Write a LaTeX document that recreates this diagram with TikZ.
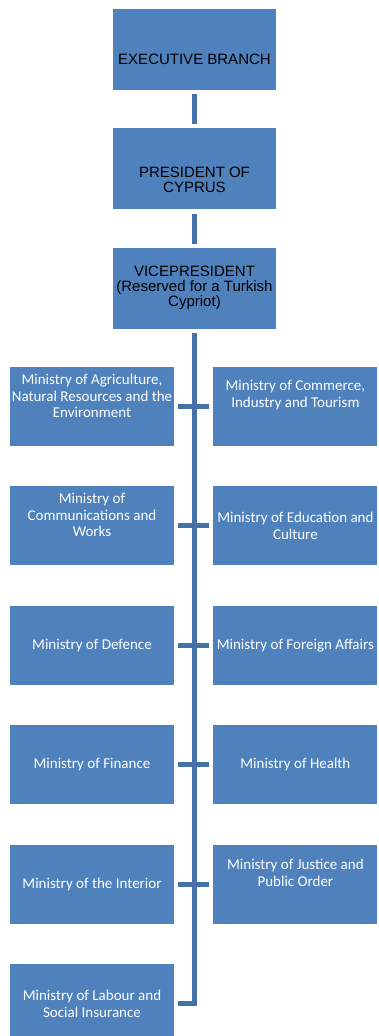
\documentclass[tikz,border=0pt]{standalone}
\usepackage{fontspec}
\newfontfamily\headfont{Liberation Sans}
\newfontfamily\minfont{Carlito}
\usetikzlibrary{positioning}
\definecolor{boxblue}{HTML}{4F81BD}
\definecolor{lineblue}{HTML}{4471A8}

\begin{document}
\begin{tikzpicture}[
    x=1pt, y=1pt,
    node distance=38pt,
    headtext/.style={text=black, align=center, font=\headfont\fontsize{15}{15}\selectfont},
    head/.style={rectangle, fill=boxblue, minimum width=163pt, minimum height=81pt, inner sep=0pt, headtext},
    mintext/.style={text=white, align=center, font=\minfont\fontsize{15}{16.7}\selectfont},
    ministry/.style={rectangle, fill=boxblue, minimum width=164pt, minimum height=79pt, inner sep=0pt, mintext},
    link/.style={draw=lineblue, line width=5pt, shorten <=4pt, shorten >=4pt}
]
\useasboundingbox (0,0) rectangle (379,-1036);

% Head of the chart
\node [head, label={[headtext, yshift=-9.5pt]center:EXECUTIVE BRANCH}] (exec) at (194.5,-49.5) {};
\node [head, below=of exec, label={[headtext, yshift=-11pt]center:{PRESIDENT OF\\CYPRUS}}] (president) {};
\node [head, below=of president] (vice) {VICEPRESIDENT\\(Reserved for a Turkish\\Cypriot)};

% Ministries, left column
\node [ministry, label={[mintext, yshift=10.5pt]center:{Ministry of Agriculture,\\Natural Resources and the\\Environment}}] (agri) at (92,-406.5) {};
\node [ministry, below=40pt of agri, label={[mintext, yshift=11pt]center:{Ministry of\\Communications and\\Works}}] (comms) {};
\node [ministry, below=40pt of comms] (defence) {Ministry of Defence};
\node [ministry, below=40pt of defence] (finance) {Ministry of Finance};
\node [ministry, below=40pt of finance] (interior) {Ministry of the Interior};
\node [ministry, below=40pt of interior] (labour) {Ministry of Labour and\\Social Insurance};

% Ministries, right column
\node [ministry, right=39pt of agri, label={[mintext, yshift=11.5pt]center:{Ministry of Commerce,\\Industry and Tourism}}] (commerce) {};
\node [ministry, right=39pt of comms] (education) {Ministry of Education and\\Culture};
\node [ministry, right=39pt of defence] (foreign) {Ministry of Foreign Affairs};
\node [ministry, right=39pt of finance] (health) {Ministry of Health};
\node [ministry, right=39pt of interior, label={[mintext, yshift=11.5pt]center:{Ministry of Justice and\\Public Order}}] (justice) {};

% Connections
\draw [link] (exec) -- (president);
\draw [link] (president) -- (vice);
\draw [link] (vice) |- (labour);
\draw [link] (agri) -- (commerce);
\draw [link] (comms) -- (education);
\draw [link] (defence) -- (foreign);
\draw [link] (finance) -- (health);
\draw [link] (interior) -- (justice);

\end{tikzpicture}
\end{document}
